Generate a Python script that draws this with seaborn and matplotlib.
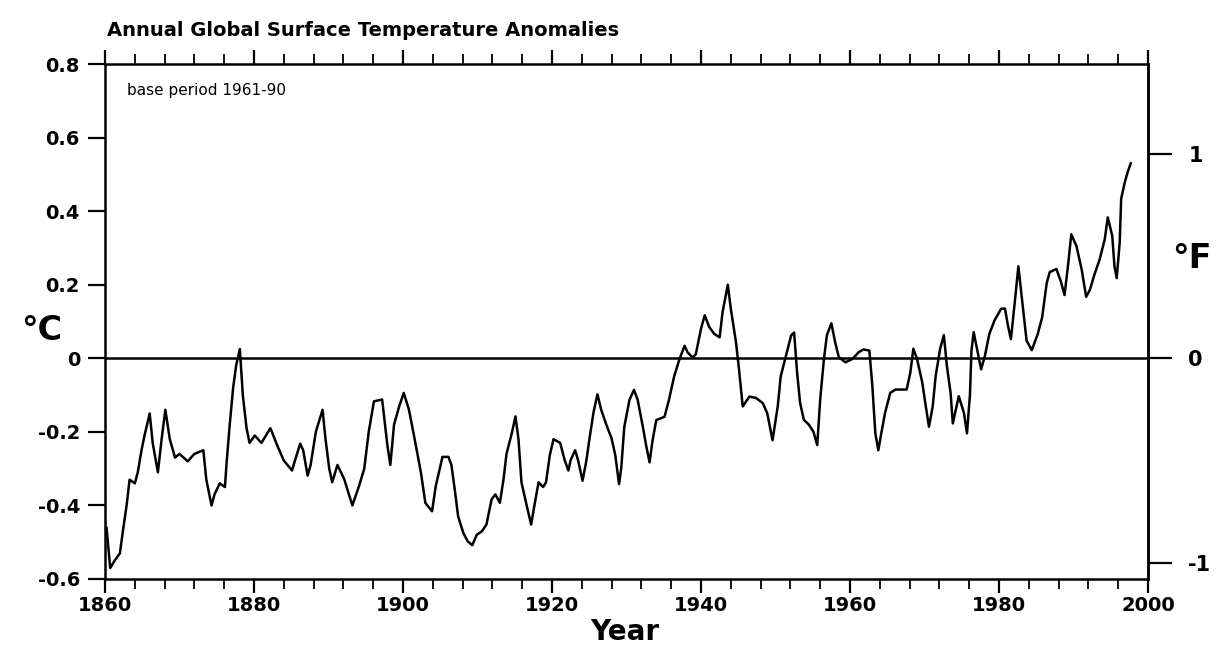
import matplotlib
matplotlib.use("Agg")
import matplotlib.pyplot as plt
from matplotlib.ticker import MultipleLocator
import seaborn as sns
import pandas as pd

# ---- data ----
years = [
    1860.2, 1860.7, 1861.3, 1862.0, 1862.4, 1862.9, 1863.3, 1864.0, 1864.4, 1864.9,
    1865.3, 1866.0, 1866.4, 1867.1, 1867.6, 1868.1, 1868.7, 1869.4, 1870.0, 1871.1,
    1872.0, 1873.2, 1873.6, 1874.3, 1874.7, 1875.4, 1876.1, 1876.3, 1876.7, 1877.2,
    1877.6, 1878.1, 1878.5, 1879.0, 1879.4, 1880.1, 1881.0, 1881.9, 1882.2, 1883.1,
    1884.0, 1885.1, 1885.5, 1886.2, 1886.6, 1887.2, 1887.6, 1888.3, 1889.2, 1889.6,
    1890.1, 1890.5, 1891.2, 1892.1, 1893.2, 1894.1, 1894.8, 1895.4, 1896.1, 1897.2,
    1897.9, 1898.3, 1898.8, 1899.5, 1900.1, 1900.8, 1901.5, 1902.4, 1903.0, 1903.9,
    1904.4, 1905.3, 1906.1, 1906.5, 1907.0, 1907.4, 1908.1, 1908.7, 1909.3, 1909.9,
    1910.6, 1911.2, 1911.9, 1912.4, 1913.0, 1913.5, 1913.9, 1914.6, 1915.1, 1915.5,
    1915.9, 1916.6, 1917.2, 1917.7, 1918.2, 1918.8, 1919.2, 1919.7, 1920.2, 1921.1,
    1921.7, 1922.2, 1922.5, 1923.1, 1923.5, 1924.1, 1924.6, 1925.1, 1925.6, 1926.1,
    1926.6, 1927.3, 1928.0, 1928.5, 1929.0, 1929.3, 1929.7, 1930.4, 1931.0, 1931.5,
    1932.2, 1932.6, 1933.1, 1933.5, 1934.0, 1935.1, 1935.7, 1936.4, 1937.1, 1937.8,
    1938.2, 1938.9, 1939.3, 1940.0, 1940.5, 1941.1, 1941.8, 1942.5, 1942.9, 1943.6,
    1944.0, 1944.7, 1945.1, 1945.6, 1946.5, 1947.4, 1948.3, 1948.9, 1949.6, 1950.3,
    1950.7, 1951.4, 1952.1, 1952.5, 1952.9, 1953.3, 1953.8, 1954.5, 1955.1, 1955.6,
    1956.0, 1956.5, 1956.9, 1957.5, 1958.0, 1958.5, 1959.4, 1960.3, 1961.2, 1961.8,
    1962.6, 1963.0, 1963.4, 1963.8, 1964.2, 1964.7, 1965.4, 1966.1, 1967.6, 1968.1,
    1968.5, 1969.0, 1969.7, 1970.1, 1970.6, 1971.1, 1971.5, 1972.1, 1972.6, 1973.0,
    1973.5, 1973.8, 1974.2, 1974.6, 1975.3, 1975.7, 1976.1, 1976.3, 1976.6, 1977.1,
    1977.6, 1978.1, 1978.7, 1979.4, 1980.3, 1980.8, 1981.2, 1981.6, 1982.1, 1982.6,
    1983.2, 1983.7, 1984.4, 1985.2, 1985.8, 1986.4, 1986.8, 1987.7, 1988.3, 1988.8,
    1989.3, 1989.7, 1990.4, 1991.1, 1991.7, 1992.2, 1992.8, 1993.5, 1994.2, 1994.6,
    1995.2, 1995.5, 1995.8, 1996.2, 1996.4, 1996.9, 1997.3, 1997.7,
]
anomaly_c = [
    -0.46, -0.57, -0.55, -0.53, -0.47, -0.40, -0.33, -0.34, -0.31, -0.25,
    -0.21, -0.15, -0.23, -0.31, -0.22, -0.14, -0.22, -0.27, -0.26, -0.28,
    -0.26, -0.25, -0.33, -0.40, -0.37, -0.34, -0.35, -0.29, -0.19, -0.08,
    -0.02, 0.025, -0.10, -0.19, -0.23, -0.21, -0.23, -0.20, -0.19, -0.236,
    -0.278, -0.305, -0.278, -0.232, -0.25, -0.319, -0.29, -0.20, -0.14, -0.22,
    -0.30, -0.337, -0.29, -0.328, -0.40, -0.347, -0.30, -0.20, -0.117, -0.112,
    -0.236, -0.29, -0.18, -0.13, -0.094, -0.14, -0.213, -0.31, -0.393, -0.416,
    -0.347, -0.268, -0.268, -0.29, -0.365, -0.43, -0.475, -0.498, -0.508, -0.48,
    -0.47, -0.452, -0.383, -0.37, -0.393, -0.328, -0.259, -0.204, -0.158, -0.22,
    -0.337, -0.40, -0.452, -0.393, -0.337, -0.35, -0.337, -0.264, -0.22, -0.23,
    -0.277, -0.305, -0.277, -0.25, -0.277, -0.333, -0.28, -0.209, -0.144, -0.098,
    -0.14, -0.181, -0.218, -0.264, -0.342, -0.297, -0.187, -0.113, -0.086, -0.113,
    -0.187, -0.233, -0.283, -0.223, -0.168, -0.159, -0.113, -0.049, -0.003, 0.034,
    0.016, 0.002, 0.011, 0.08, 0.117, 0.085, 0.066, 0.057, 0.126, 0.20,
    0.135, 0.043, -0.03, -0.131, -0.104, -0.108, -0.122, -0.15, -0.223, -0.131,
    -0.049, 0.006, 0.062, 0.07, -0.039, -0.121, -0.167, -0.181, -0.20, -0.236,
    -0.112, -0.002, 0.063, 0.095, 0.044, 0.003, -0.011, -0.002, 0.017, 0.024,
    0.021, -0.075, -0.204, -0.25, -0.204, -0.149, -0.094, -0.085, -0.085, -0.039,
    0.026, -0.002, -0.066, -0.121, -0.186, -0.131, -0.048, 0.026, 0.063, -0.02,
    -0.094, -0.177, -0.14, -0.103, -0.149, -0.204, -0.10, 0.02, 0.071, 0.02,
    -0.03, 0.006, 0.066, 0.103, 0.135, 0.135, 0.089, 0.052, 0.149, 0.25,
    0.14, 0.048, 0.022, 0.066, 0.112, 0.204, 0.234, 0.243, 0.209, 0.172,
    0.259, 0.337, 0.305, 0.241, 0.167, 0.186, 0.227, 0.268, 0.324, 0.383,
    0.333, 0.25, 0.218, 0.314, 0.434, 0.48, 0.508, 0.531,
]
x_ticks = [1860, 1880, 1900, 1920, 1940, 1960, 1980, 2000]
x_tick_labels = ["1860", "1880", "1900", "1920", "1940", "1960", "1980", "2000"]
y_ticks = [-0.6, -0.4, -0.2, 0.0, 0.2, 0.4, 0.6, 0.8]
y_tick_labels = ["-0.6", "-0.4", "-0.2", "0", "0.2", "0.4", "0.6", "0.8"]
f_ticks = [-1, 0, 1]
f_tick_labels = ["-1", "0", "1"]

df = pd.DataFrame({"year": years, "anom": anomaly_c})

sns.set_style("ticks")
plt.rcParams["font.family"] = ["DejaVu Sans"]
plt.rcParams["text.color"] = "black"
plt.rcParams["axes.labelcolor"] = "black"
plt.rcParams["xtick.color"] = "black"
plt.rcParams["ytick.color"] = "black"
plt.rcParams["axes.edgecolor"] = "black"

fig = plt.figure(figsize=(12.23, 6.58), dpi=100)
ax = fig.add_axes([105 / 1223, 1 - 579 / 658, 1043 / 1223, (579 - 64) / 658])

sns.lineplot(data=df, x="year", y="anom", ax=ax, color="black",
             linewidth=1.8, estimator=None)
ax.axhline(0, color="black", linewidth=1.8, zorder=1)

ax.set_xlim(1860, 2000)
ax.set_ylim(-0.6, 0.8)
ax.set_xlabel("")
ax.set_ylabel("")

ax.set_xticks(x_ticks)
ax.set_xticklabels(x_tick_labels, fontsize=14, fontweight="bold", color="black")
ax.xaxis.set_minor_locator(MultipleLocator(4))
ax.tick_params(axis="x", which="major", direction="out", length=10, width=1.6,
               top=True, labeltop=False, pad=2, colors="black")
ax.tick_params(axis="x", which="minor", direction="out", length=7, width=1.3,
               top=True, colors="black")

ax.set_yticks(y_ticks)
ax.set_yticklabels(y_tick_labels, fontsize=14, fontweight="bold", color="black")
ax.tick_params(axis="y", which="major", direction="out", length=12, width=1.6,
               right=False, pad=6, colors="black")

for s in ax.spines.values():
    s.set_linewidth(1.8)
    s.set_color("black")

sec = ax.secondary_yaxis("right", functions=(lambda c: c * 1.8, lambda f: f / 1.8))
sec.set_yticks(f_ticks)
sec.set_yticklabels(f_tick_labels, fontsize=15, fontweight="bold", color="black")
sec.tick_params(axis="y", direction="out", length=17, width=1.6, pad=12,
                colors="black")
sec.spines["right"].set_linewidth(1.8)
sec.spines["right"].set_color("black")

fig.text(107 / 1223, 1 - 31 / 658, "Annual Global Surface Temperature Anomalies",
         fontsize=14, fontweight="bold", ha="left", va="center", color="black")
fig.text(127 / 1223, 1 - 90 / 658, "base period 1961-90", fontsize=11,
         ha="left", va="center", color="black")
fig.text(42 / 1223, 1 - 330 / 658, "°C", fontsize=24, fontweight="bold",
         ha="center", va="center", color="black")
fig.text(1192 / 1223, 1 - 258 / 658, "°F", fontsize=24, fontweight="bold",
         ha="center", va="center", color="black")
fig.text(625 / 1223, 1 - 632 / 658, "Year", fontsize=20, fontweight="bold",
         ha="center", va="center", color="black")

fig.savefig("out.png", dpi=100, facecolor="white")
